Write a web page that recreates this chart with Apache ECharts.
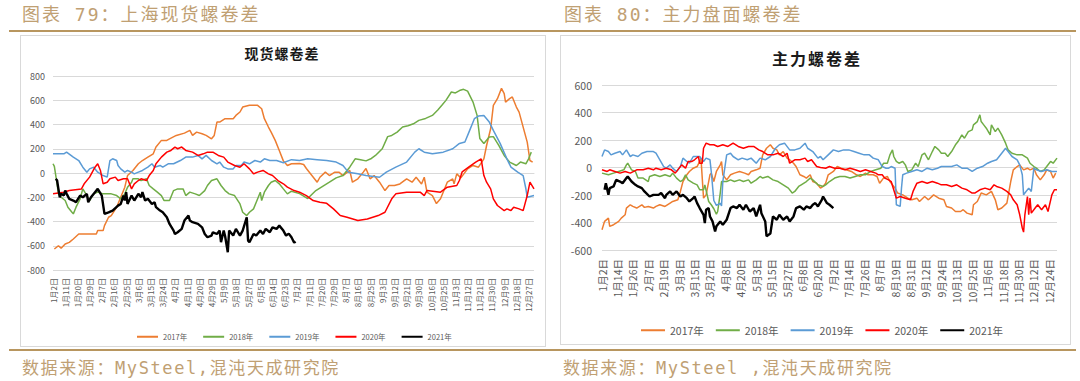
<!DOCTYPE html>
<html>
<head>
<meta charset="utf-8">
<script src="https://cdn.jsdelivr.net/npm/echarts@6/dist/echarts.min.js"></script>
<style>
  html, body { margin: 0; padding: 0; background: #fff; }
  body { width: 1080px; height: 381px; position: relative; overflow: hidden; font-family: "DejaVu Sans Mono", "Noto Sans CJK SC", sans-serif; }
  .hdr { position: absolute; top: 4px; font-size: 18px; line-height: 22px; color: #c0a073; letter-spacing: 2px; white-space: nowrap; }
  .ftr { position: absolute; top: 357px; font-size: 17px; line-height: 22px; color: #c0a073; letter-spacing: 1.6px; white-space: nowrap; }
  .gold { position: absolute; left: 9px; width: 1067px; height: 2px; background: #b8965f; }
  .box { position: absolute; border: 1px solid #d9d9d9; box-sizing: border-box; background: #fff; }
  .ttl { position: absolute; font-family: "Noto Sans CJK SC", sans-serif; font-weight: bold; color: #1a1a1a; white-space: nowrap; transform: translate(-50%, -50%); }
  #chart { position: absolute; left: 0; top: 0; width: 1080px; height: 381px; }
</style>
</head>
<body>
<div class="hdr" style="left:22px">图表 79：上海现货螺卷差</div>
<div class="hdr" style="left:564px">图表 80：主力盘面螺卷差</div>
<div class="gold" style="top:30px"></div>
<div class="box" style="left:20px;top:35px;width:526px;height:312px"></div>
<div class="box" style="left:560px;top:35px;width:511px;height:310px"></div>
<div class="gold" style="top:349px"></div>
<div class="ftr" style="left:22px">数据来源：MySteel,混沌天成研究院</div>
<div class="ftr" style="left:563px">数据来源：MySteel ,混沌天成研究院</div>
<div class="ttl" style="left:282px;top:53px;font-size:14px;letter-spacing:1px">现货螺卷差</div>
<div class="ttl" style="left:817px;top:58px;font-size:16px;letter-spacing:2px">主力螺卷差</div>
<div id="chart"></div>
<script>
// ---------- tick labels ----------
const spotTicks = ['1月2日','1月11日','1月20日','1月29日','2月7日','2月16日','2月25日','3月6日','3月15日','3月24日','4月2日','4月11日','4月20日','4月29日','5月9日','5月18日','5月27日','6月5日','6月14日','6月23日','7月2日','7月11日','7月20日','7月29日','8月7日','8月16日','8月25日','9月3日','9月12日','9月21日','9月30日','10月16日','10月25日','11月3日','11月12日','11月21日','11月30日','12月9日','12月18日','12月27日'];
const futTicks = ['1月2日','1月14日','1月26日','2月7日','2月19日','3月3日','3月15日','3月27日','4月8日','4月20日','5月3日','5月15日','5月27日','6月8日','6月20日','7月2日','7月14日','7月26日','8月7日','8月19日','8月31日','9月12日','9月24日','10月13日','10月25日','11月6日','11月18日','11月30日','12月12日','12月24日'];
const spotStep = 9;   // days between shown labels (left)
const futStep = 12;   // days between shown labels (right)
const spotDays = 355;
const futDays = 354;

const yearNames = ['2017年','2018年','2019年','2020年','2021年'];
const yearColors = ['#ED7D31','#70AD47','#5B9BD5','#FF0000','#000000'];

// ---------- 上海现货螺卷差: [day index, value] ----------
const spot2017 = [[1,-627],[4,-600],[6,-620],[9,-585],[12,-572],[15,-544],[19,-503],[32,-503],[33,-475],[37,-475],[38,-434],[41,-365],[43,-351],[47,-282],[49,-227],[53,-117],[55,-21],[59,21],[63,76],[66,103],[70,131],[74,158],[76,214],[80,269],[84,269],[86,282],[91,310],[97,329],[101,351],[103,310],[106,337],[110,324],[113,310],[117,282],[119,310],[121,420],[123,420],[127,448],[133,448],[135,475],[138,503],[140,544],[145,558],[151,558],[154,530],[156,448],[159,379],[161,337],[164,269],[167,186],[170,100],[173,62],[176,76],[182,79],[185,70],[187,37],[195,-76],[197,-35],[201,7],[204,-21],[208,7],[211,7],[214,-21],[219,21],[221,-76],[225,-48],[229,7],[231,37],[234,-48],[237,-21],[241,-76],[245,-145],[248,-103],[252,-103],[256,-90],[261,-48],[265,-76],[268,-35],[272,-90],[274,-35],[276,-158],[280,-186],[283,-252],[286,-213],[291,-76],[295,-48],[296,-90],[298,-7],[301,-40],[306,34],[310,62],[314,48],[318,117],[320,227],[323,365],[325,558],[328,613],[331,698],[333,655],[334,585],[337,613],[339,627],[342,544],[344,502],[348,337],[350,255],[352,103],[354,90]];
const spot2018 = [[0,76],[1,54],[3,-90],[4,-172],[6,-200],[9,-227],[11,-282],[14,-324],[15,-337],[17,-282],[20,-213],[22,-131],[25,-186],[27,-227],[30,-172],[33,-158],[37,-172],[43,-172],[47,-186],[50,-213],[53,-172],[55,-117],[58,-76],[59,-48],[63,-48],[65,-62],[69,-48],[71,-103],[74,-131],[77,-158],[80,-186],[82,-227],[86,-227],[89,-145],[92,-131],[96,-131],[98,-186],[101,-158],[105,-172],[108,-186],[112,-145],[114,-103],[117,-62],[121,-48],[124,-103],[127,-145],[130,-172],[134,-186],[138,-255],[140,-324],[143,-351],[145,-324],[148,-296],[150,-241],[153,-158],[154,-227],[156,-158],[159,-103],[161,-76],[164,-62],[167,-89],[170,-131],[173,-172],[176,-150],[182,-170],[188,-211],[194,-145],[199,-110],[204,-76],[209,-40],[214,-21],[219,48],[223,117],[227,110],[231,100],[235,120],[238,145],[243,200],[247,300],[250,310],[254,337],[258,379],[262,390],[266,406],[270,434],[275,450],[280,475],[284,520],[287,558],[290,599],[294,668],[297,660],[300,680],[303,690],[306,675],[310,585],[313,475],[315,285],[318,244],[322,296],[325,300],[329,227],[333,145],[337,90],[342,62],[345,90],[349,76],[351,117],[353,172]];
const spot2019 = [[0,158],[8,158],[10,172],[15,131],[19,103],[22,48],[25,7],[27,34],[30,48],[33,7],[37,-21],[40,-34],[42,103],[44,117],[47,103],[48,62],[50,34],[53,7],[55,21],[58,7],[60,-7],[63,7],[66,21],[70,48],[73,76],[75,48],[79,62],[81,48],[85,76],[89,76],[94,103],[98,131],[103,131],[107,145],[110,117],[113,145],[117,103],[121,76],[123,90],[126,48],[129,34],[133,34],[135,62],[139,62],[141,90],[145,76],[149,103],[153,90],[156,117],[160,103],[165,103],[170,85],[176,110],[182,103],[188,117],[195,110],[202,103],[209,90],[214,62],[218,7],[225,-7],[231,-21],[241,-35],[246,7],[253,48],[261,90],[267,172],[270,200],[274,172],[280,158],[288,172],[295,200],[300,244],[304,255],[307,337],[311,448],[314,470],[318,475],[322,420],[325,351],[330,244],[335,117],[338,48],[343,7],[347,-21],[349,-130],[350,-200],[355,-186]];
const spot2020 = [[0,-172],[8,-158],[12,-145],[21,-131],[23,-89],[27,-34],[31,48],[33,76],[35,21],[37,-89],[40,-76],[42,-48],[46,-34],[48,-62],[52,-48],[55,-48],[58,-131],[60,-89],[63,-62],[65,-48],[69,-62],[71,-21],[74,21],[76,76],[80,131],[84,172],[87,186],[90,214],[92,200],[95,214],[98,186],[103,172],[107,145],[111,158],[114,172],[118,172],[122,145],[126,131],[129,90],[134,62],[138,48],[141,76],[145,34],[148,-7],[151,7],[155,21],[159,-7],[162,-21],[166,-62],[170,-89],[173,-117],[178,-145],[182,-158],[187,-186],[192,-227],[197,-241],[202,-250],[207,-296],[212,-351],[217,-365],[225,-392],[232,-379],[240,-351],[245,-324],[250,-213],[253,-172],[261,-158],[271,-158],[274,-186],[276,-145],[286,-158],[291,-117],[298,-103],[300,-60],[302,10],[307,50],[312,90],[316,117],[318,-21],[320,-76],[323,-131],[325,-213],[328,-268],[333,-310],[335,-296],[338,-310],[340,-282],[344,-296],[347,-310],[350,-186],[352,-76],[355,-131]];
const spot2021 = [[2,-48],[3,-60],[4,-131],[5,-200],[6,-170],[8,-186],[9,-145],[10,-170],[12,-213],[15,-227],[17,-241],[20,-186],[22,-200],[25,-172],[26,-241],[28,-200],[31,-158],[33,-131],[36,-186],[38,-337],[41,-324],[44,-310],[48,-269],[50,-255],[52,-186],[53,-227],[54,-158],[55,-255],[58,-186],[60,-227],[63,-172],[65,-200],[66,-158],[68,-227],[70,-213],[73,-255],[75,-241],[76,-282],[79,-310],[81,-324],[84,-365],[86,-420],[89,-475],[90,-503],[92,-489],[95,-461],[97,-392],[100,-351],[101,-392],[103,-406],[107,-420],[110,-448],[112,-503],[114,-530],[117,-516],[118,-489],[121,-503],[123,-475],[124,-571],[126,-475],[127,-520],[129,-654],[130,-475],[133,-516],[135,-461],[138,-516],[140,-475],[143,-365],[144,-558],[145,-571],[148,-503],[150,-516],[153,-475],[155,-503],[157,-461],[160,-489],[162,-448],[165,-461],[167,-434],[170,-475],[172,-516],[174,-500],[176,-530],[178,-575],[179,-565]];

// ---------- 主力螺卷差: [day index, value] ----------
const fut2017 = [[0,-453],[2,-392],[5,-368],[6,-428],[9,-416],[13,-392],[15,-368],[18,-344],[19,-295],[22,-271],[24,-283],[27,-295],[31,-271],[33,-290],[36,-283],[40,-295],[42,-283],[45,-271],[49,-283],[53,-259],[55,-247],[59,-235],[61,-174],[63,-102],[66,-53],[68,-29],[71,-5],[74,7],[76,44],[77,68],[79,-223],[81,-199],[84,-53],[85,-41],[87,-102],[89,-29],[92,19],[93,44],[94,-53],[97,-90],[100,-53],[103,-41],[107,-29],[111,-41],[114,-53],[116,-29],[120,-17],[123,-5],[125,92],[128,140],[131,165],[133,140],[136,128],[138,92],[141,116],[144,68],[146,56],[149,31],[151,7],[154,-53],[157,-65],[159,-77],[162,-53],[164,-102],[167,-114],[170,-150],[172,-138],[174,-114],[176,-53],[180,-29],[183,7],[186,-5],[190,-17],[194,-29],[198,-53],[201,-65],[205,-41],[207,-53],[211,-53],[214,-65],[216,-114],[219,-77],[222,-65],[224,-102],[228,-150],[230,-186],[234,-199],[238,-223],[241,-235],[245,-223],[247,-247],[251,-211],[254,-235],[258,-199],[262,-223],[266,-235],[268,-283],[272,-295],[275,-320],[279,-320],[281,-307],[284,-332],[288,-344],[289,-271],[292,-247],[295,-186],[299,-199],[303,-174],[306,-235],[308,-307],[311,-295],[315,-259],[318,-102],[320,-17],[323,7],[325,19],[328,-17],[331,-5],[333,-17],[336,-5],[338,-53],[341,-90],[344,-53],[346,-17],[349,-29],[351,-77],[353,-41]];
const fut2018 = [[0,-41],[5,-53],[9,-41],[13,-29],[17,-17],[19,19],[20,31],[23,-17],[26,-29],[28,-77],[32,-77],[36,-102],[37,-65],[41,-53],[45,-65],[49,-53],[53,-65],[55,-41],[58,-77],[61,-102],[63,-90],[65,-53],[67,-90],[71,-114],[74,-126],[76,-162],[79,-162],[80,-126],[83,-247],[85,-271],[87,-300],[89,-340],[90,-320],[92,-186],[93,-102],[97,-102],[100,-90],[103,-102],[107,-90],[110,-102],[114,-90],[116,-114],[120,-90],[123,-65],[125,-77],[129,-65],[133,-90],[137,-102],[141,-126],[145,-150],[148,-186],[150,-174],[153,-138],[155,-126],[159,-102],[162,-77],[164,-90],[168,-126],[172,-138],[174,-126],[177,-102],[181,-77],[185,-65],[189,-65],[193,-77],[197,-65],[201,-53],[205,-53],[209,-29],[213,-17],[217,-5],[219,31],[222,31],[224,92],[226,128],[227,80],[229,44],[231,31],[234,44],[236,19],[238,-29],[241,-17],[244,31],[246,7],[249,92],[251,104],[254,56],[257,116],[259,153],[262,128],[264,104],[267,104],[269,80],[272,116],[275,165],[277,189],[280,237],[282,213],[285,261],[288,274],[289,310],[292,334],[294,383],[295,334],[297,310],[299,286],[302,237],[303,310],[306,261],[308,286],[311,237],[314,177],[316,128],[319,104],[323,92],[327,92],[331,68],[333,31],[336,7],[338,-5],[341,-29],[344,-17],[346,7],[349,44],[351,31],[354,68]];
const fut2019 = [[0,80],[2,128],[5,116],[7,92],[10,104],[14,116],[16,92],[19,128],[22,80],[24,92],[28,80],[31,104],[35,116],[40,116],[42,104],[45,56],[48,7],[50,-5],[53,19],[55,-5],[58,-29],[61,7],[63,68],[66,44],[68,31],[71,80],[74,80],[76,80],[79,44],[81,68],[84,56],[85,-29],[87,-240],[89,-275],[92,-260],[93,-280],[94,-102],[97,92],[100,104],[102,80],[106,56],[109,68],[113,56],[116,68],[120,31],[123,68],[127,56],[131,80],[135,140],[138,165],[142,177],[146,128],[150,128],[154,140],[158,177],[160,140],[164,116],[168,68],[170,80],[172,56],[176,92],[180,128],[184,116],[188,128],[192,128],[196,116],[200,104],[204,92],[208,92],[211,68],[215,56],[218,7],[221,-5],[223,-5],[225,7],[228,-5],[229,-271],[232,-283],[233,-150],[234,-53],[237,-41],[241,-29],[245,-17],[249,-29],[253,-5],[257,-17],[261,-5],[264,7],[268,7],[272,7],[276,19],[280,-5],[284,-5],[288,-29],[292,-5],[296,7],[300,31],[303,44],[307,56],[311,104],[314,140],[316,116],[319,80],[323,56],[325,19],[327,-53],[328,-199],[329,-186],[332,-150],[334,-174],[336,-5],[338,-17],[342,-29],[346,-17],[350,-29],[354,-29]];
const fut2020 = [[0,-17],[4,-29],[6,-17],[10,-29],[14,-41],[18,-29],[22,-41],[27,-17],[32,-17],[36,-5],[40,-17],[42,-5],[46,-17],[50,-5],[54,-17],[57,-41],[59,-17],[62,19],[65,-5],[67,44],[70,44],[72,56],[75,80],[76,31],[78,31],[79,140],[81,177],[84,165],[87,165],[90,153],[94,165],[98,153],[102,177],[106,153],[110,140],[114,153],[118,153],[122,128],[125,116],[129,92],[133,92],[137,104],[141,80],[144,104],[146,31],[150,56],[154,56],[158,68],[160,44],[163,56],[167,7],[170,0],[174,-5],[177,7],[181,-5],[185,-5],[189,-17],[193,-5],[197,-17],[201,-29],[205,-17],[209,-29],[213,-41],[215,-53],[218,-53],[220,-77],[223,-90],[225,-102],[229,-223],[232,-211],[236,-223],[240,-235],[242,-174],[245,-114],[249,-102],[253,-114],[257,-102],[261,-114],[264,-126],[268,-126],[272,-138],[276,-126],[280,-150],[284,-162],[288,-186],[290,-186],[294,-162],[298,-150],[302,-162],[305,-126],[307,-138],[311,-150],[315,-174],[318,-199],[320,-235],[323,-271],[325,-344],[327,-440],[328,-470],[329,-344],[331,-211],[332,-344],[333,-223],[334,-332],[337,-295],[339,-271],[342,-307],[345,-271],[347,-320],[350,-199],[352,-162],[354,-162]];
const fut2021 = [[2,-162],[3,-114],[5,-199],[6,-150],[9,-138],[11,-90],[14,-102],[16,-114],[19,-77],[20,-65],[23,-102],[26,-126],[28,-138],[31,-150],[33,-174],[37,-211],[40,-199],[44,-199],[46,-186],[49,-223],[50,-199],[53,-174],[55,-199],[58,-174],[61,-211],[63,-199],[66,-223],[68,-247],[71,-223],[72,-211],[74,-259],[76,-295],[79,-344],[80,-404],[81,-307],[83,-295],[84,-356],[86,-392],[88,-465],[89,-428],[92,-392],[94,-416],[97,-380],[100,-295],[102,-283],[105,-295],[107,-271],[110,-307],[112,-271],[115,-320],[118,-295],[120,-356],[123,-271],[124,-332],[127,-392],[128,-500],[131,-480],[133,-356],[136,-380],[138,-344],[141,-380],[144,-356],[146,-392],[149,-356],[151,-295],[154,-283],[157,-307],[159,-283],[162,-295],[164,-271],[166,-259],[168,-283],[171,-235],[172,-211],[175,-259],[177,-271],[180,-295]];

const spotSeries = [spot2017, spot2018, spot2019, spot2020, spot2021];
const futSeries = [fut2017, fut2018, fut2019, fut2020, fut2021];

const chart = echarts.init(document.getElementById('chart'), null, { renderer: 'svg' });
const FONT = '"Noto Sans CJK SC", "Noto Sans", sans-serif';
const gridColor = '#d9d9d9';
const labelColor = '#595959';

function xAxisFor(gridIndex, maxDay, step, ticks, fontSize, margin) {
  return {
    type: 'value', gridIndex, min: 0, max: maxDay, interval: step,
    axisLine: { show: true, lineStyle: { color: gridColor } },
    axisTick: { show: false },
    splitLine: { show: false },
    axisLabel: {
      rotate: 90, fontSize, color: labelColor, margin, fontFamily: FONT,
      showMaxLabel: false, showMinLabel: true,
      formatter: v => { const k = Math.round(v / step); return (Math.abs(v - k * step) < 1e-6 && ticks[k]) ? ticks[k] : ''; }
    }
  };
}
function yAxisFor(gridIndex, min, max, fontSize, margin) {
  return {
    type: 'value', gridIndex, min, max, interval: 200,
    axisLine: { show: false }, axisTick: { show: false },
    splitLine: { show: true, lineStyle: { color: gridColor, width: 1 } },
    axisLabel: { fontSize, color: labelColor, margin, fontFamily: FONT }
  };
}

const series = [];
[spotSeries, futSeries].forEach((group, gi) => {
  group.forEach((data, j) => {
    series.push({
      type: 'line', name: yearNames[j], xAxisIndex: gi, yAxisIndex: gi,
      data, symbol: 'none', animation: false,
      lineStyle: { color: yearColors[j], width: j === 4 ? 2.4 : 1.5 },
      itemStyle: { color: yearColors[j] },
      emphasis: { disabled: true }
    });
  });
});

chart.setOption({
  backgroundColor: 'transparent',
  textStyle: { fontFamily: FONT },
  animation: false,
  grid: [
    { left: 53, top: 76, width: 481, height: 194 },
    { left: 602, top: 85, width: 455, height: 165 }
  ],
  xAxis: [
    xAxisFor(0, spotDays, spotStep, spotTicks, 8, 8),
    xAxisFor(1, futDays, futStep, futTicks, 10.5, 9)
  ],
  yAxis: [
    yAxisFor(0, -800, 800, 9, 8),
    yAxisFor(1, -600, 600, 10.5, 10)
  ],
  legend: [
    { data: yearNames, left: 132, top: 328, icon: 'rect', itemWidth: 21, itemHeight: 2, itemGap: 16,
      textStyle: { fontSize: 7.5, color: labelColor, fontFamily: FONT }, selectedMode: false },
    { data: yearNames, left: 636, top: 320, icon: 'rect', itemWidth: 24, itemHeight: 2, itemGap: 12,
      textStyle: { fontSize: 10.5, color: labelColor, fontFamily: FONT }, selectedMode: false }
  ],
  series
});
</script>
</body>
</html>
